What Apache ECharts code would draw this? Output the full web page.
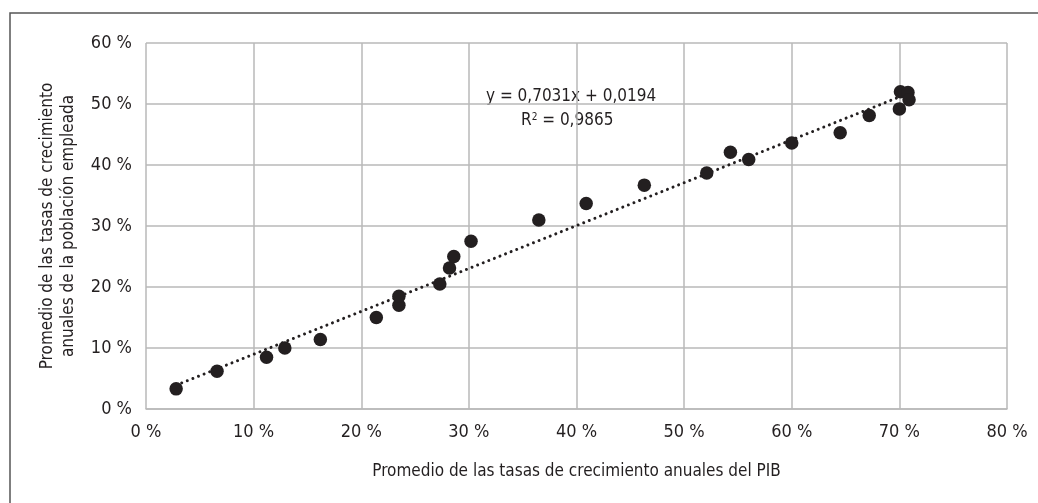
<!DOCTYPE html>
<html>
<head>
<meta charset="utf-8">
<script src="https://cdn.jsdelivr.net/npm/echarts@6/dist/echarts.min.js"></script>
<style>
  html, body { margin: 0; padding: 0; background: #ffffff; }
  #chart { width: 1038px; height: 503px; }
</style>
</head>
<body>
<div id="chart"></div>
<script>
// Average annual growth rates (%) of GDP (x) and employed population (y)
const gdpGrowth = [2.8, 6.6, 11.2, 12.9, 16.2, 21.4, 23.5, 23.5, 27.3, 28.2, 28.6, 30.2,
                   36.5, 40.9, 46.3, 52.1, 54.3, 56.0, 60.0, 64.5, 67.2, 70.0, 70.1, 70.8, 70.9];
const employmentGrowth = [3.3, 6.2, 8.5, 10.0, 11.4, 15.0, 17.0, 18.5, 20.5, 23.1, 25.0, 27.5,
                          31.0, 33.7, 36.7, 38.7, 42.1, 40.9, 43.6, 45.3, 48.1, 49.2, 52.0, 51.9, 50.7];

// Linear trend fitted to the points
const slope = 0.7031;
const intercept = 0.0194;
const rSquared = 0.9865;

const xTicks = [0, 10, 20, 30, 40, 50, 60, 70, 80];
const yTicks = [0, 10, 20, 30, 40, 50, 60];

const FONT = '"Liberation Sans Narrow", "DejaVu Sans Condensed", sans-serif';
const INK = '#231f20';
const GRID = '#b9b9b9';

const points = gdpGrowth.map((x, i) => [x / 100, employmentGrowth[i] / 100]);
const xMin = Math.min(...gdpGrowth) / 100;
const xMax = Math.max(...gdpGrowth) / 100;
const trend = [[xMin, slope * xMin + intercept], [xMax, slope * xMax + intercept]];

const fmtComma = (v, d) => v.toFixed(d).replace('.', ',');
const pct = v => Math.round(v * 100) + ' %';

const chart = echarts.init(document.getElementById('chart'), null, { renderer: 'canvas' });
chart.setOption({
  animation: false,
  backgroundColor: '#ffffff',
  textStyle: { fontFamily: FONT },
  graphic: [
    {
      type: 'rect',
      shape: { x: 10, y: 13, width: 1040, height: 500 },
      style: { fill: 'none', stroke: '#555555', lineWidth: 1.5 },
      silent: true
    },
    {
      type: 'text',
      left: 486,
      top: 88,
      style: {
        text: 'y = ' + fmtComma(slope, 4) + 'x + ' + fmtComma(intercept, 4),
        font: '17px ' + FONT,
        fill: INK
      }
    },
    {
      type: 'text',
      left: 521,
      top: 112,
      style: {
        rich: { sup: { fontSize: 10, verticalAlign: 'top', padding: [0, 0, 8, 0], fill: INK, fontFamily: FONT } },
        text: 'R{sup|2} = ' + fmtComma(rSquared, 4),
        font: '17px ' + FONT,
        fill: INK
      }
    }
  ],
  grid: { left: 146, right: 31, top: 43, bottom: 94 },
  xAxis: {
    type: 'value',
    min: xTicks[0] / 100,
    max: xTicks[xTicks.length - 1] / 100,
    interval: (xTicks[1] - xTicks[0]) / 100,
    name: 'Promedio de las tasas de crecimiento anuales del PIB',
    nameLocation: 'middle',
    nameGap: 54,
    nameTextStyle: { fontSize: 17, color: INK, fontFamily: FONT },
    axisLine: { show: true, lineStyle: { color: GRID, width: 1.5 } },
    axisTick: { show: false },
    axisLabel: { formatter: pct, fontSize: 18, color: INK, margin: 14, fontFamily: FONT },
    splitLine: { show: true, lineStyle: { color: GRID, width: 1.5 } }
  },
  yAxis: {
    type: 'value',
    min: yTicks[0] / 100,
    max: yTicks[yTicks.length - 1] / 100,
    interval: (yTicks[1] - yTicks[0]) / 100,
    name: 'Promedio de las tasas de crecimiento\nanuales de la población empleada',
    nameLocation: 'middle',
    nameGap: 67,
    nameTextStyle: { fontSize: 17, color: INK, fontFamily: FONT, lineHeight: 21 },
    axisLine: { show: false },
    axisTick: { show: false },
    axisLabel: { formatter: pct, fontSize: 18, color: INK, margin: 14, fontFamily: FONT },
    splitLine: { show: true, lineStyle: { color: GRID, width: 1.5 } }
  },
  series: [
    {
      type: 'line',
      data: trend,
      symbol: 'none',
      silent: true,
      lineStyle: { color: INK, width: 3, type: [0.01, 6], cap: 'round' },
      z: 2
    },
    {
      type: 'scatter',
      data: points,
      symbol: 'circle',
      symbolSize: 13.5,
      itemStyle: { color: INK, opacity: 1 },
      z: 3
    }
  ]
});
</script>
</body>
</html>
